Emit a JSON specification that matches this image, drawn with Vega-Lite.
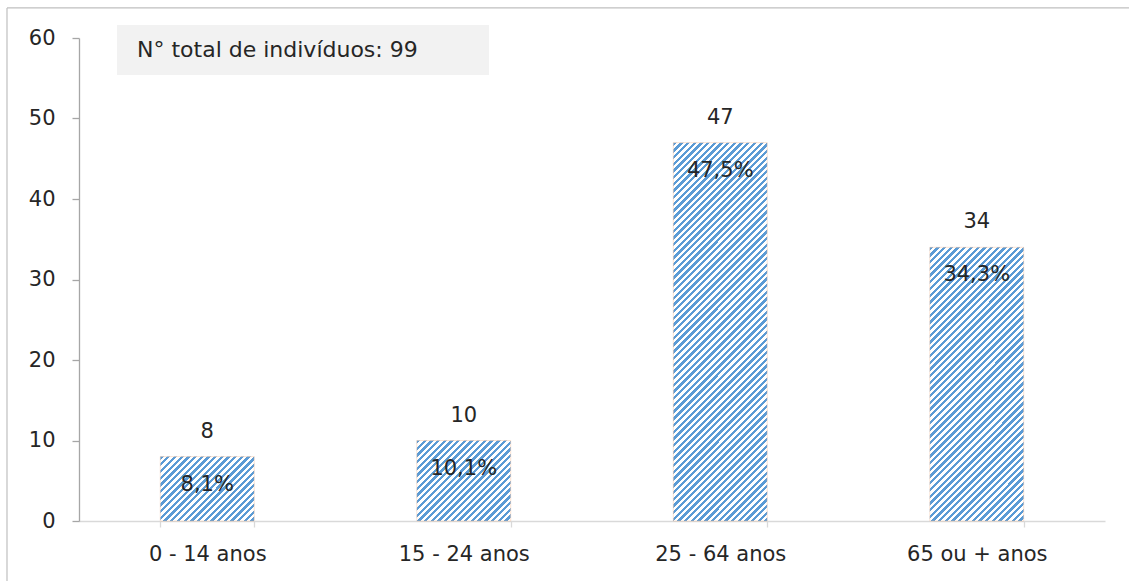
{
"$schema": "https://vega.github.io/schema/vega-lite/v6.json",
"width": 1026,
"height": 483,
"autosize": {"type": "none"},
"padding": {"left": 79, "top": 38, "right": 24, "bottom": 60},
"background": "#ffffff",
"config": {"view": {"stroke": null}, "font": "DejaVu Sans"},
"layer": [
{
"data": {"values": [
{"faixa": "0 - 14 anos", "n": 8, "pct": "8,1%"},
{"faixa": "15 - 24 anos", "n": 10, "pct": "10,1%"},
{"faixa": "25 - 64 anos", "n": 47, "pct": "47,5%"},
{"faixa": "65 ou + anos", "n": 34, "pct": "34,3%"}
]},
"layer": [
{
"mark": {"type": "bar", "stroke": "#f4b183", "strokeWidth": 0.5, "strokeOpacity": 0.7},
"encoding": {
"x": {"field": "faixa", "type": "nominal", "sort": null,
"scale": {"paddingInner": 0.634, "paddingOuter": 0.317},
"axis": {"title": null, "labelAngle": 0, "labelFont": "DejaVu Sans", "labelFontSize": 21, "labelColor": "#262626", "domainColor": "#d9d9d9", "domainWidth": 1.3, "tickColor": "#d9d9d9", "tickWidth": 1.3, "tickSize": 6, "tickBand": "extent", "labelPadding": 16, "grid": false}},
"y": {"field": "n", "type": "quantitative",
"scale": {"domain": [0, 60], "nice": false},
"axis": {"title": null, "values": [0, 10, 20, 30, 40, 50, 60], "labelFont": "DejaVu Sans", "labelFontSize": 21, "labelColor": "#262626", "domainColor": "#a6a6a6", "domainWidth": 1.3, "tickColor": "#a6a6a6", "tickWidth": 1.3, "tickSize": 7, "labelPadding": 17, "grid": false}},
"color": {"condition": [
{"test": "datum.faixa === '0 - 14 anos'", "value": {"gradient": "linear", "x1": 0, "y1": 0, "x2": 4.8528, "y2": 3.3282, "stops": [
{"offset":0,"color":"#5b9bd5"},
{"offset":0.005,"color":"#5b9bd5"},{"offset":0.005,"color":"#fff"},{"offset":0.01,"color":"#fff"},{"offset":0.01,"color":"#5b9bd5"},{"offset":0.015,"color":"#5b9bd5"},{"offset":0.015,"color":"#fff"},{"offset":0.02,"color":"#fff"},{"offset":0.02,"color":"#5b9bd5"},{"offset":0.025,"color":"#5b9bd5"},{"offset":0.025,"color":"#fff"},{"offset":0.03,"color":"#fff"},{"offset":0.03,"color":"#5b9bd5"},{"offset":0.035,"color":"#5b9bd5"},{"offset":0.035,"color":"#fff"},{"offset":0.04,"color":"#fff"},{"offset":0.04,"color":"#5b9bd5"},{"offset":0.045,"color":"#5b9bd5"},{"offset":0.045,"color":"#fff"},{"offset":0.05,"color":"#fff"},{"offset":0.05,"color":"#5b9bd5"},
{"offset":0.055,"color":"#5b9bd5"},{"offset":0.055,"color":"#fff"},{"offset":0.06,"color":"#fff"},{"offset":0.06,"color":"#5b9bd5"},{"offset":0.065,"color":"#5b9bd5"},{"offset":0.065,"color":"#fff"},{"offset":0.07,"color":"#fff"},{"offset":0.07,"color":"#5b9bd5"},{"offset":0.075,"color":"#5b9bd5"},{"offset":0.075,"color":"#fff"},{"offset":0.08,"color":"#fff"},{"offset":0.08,"color":"#5b9bd5"},{"offset":0.085,"color":"#5b9bd5"},{"offset":0.085,"color":"#fff"},{"offset":0.09,"color":"#fff"},{"offset":0.09,"color":"#5b9bd5"},{"offset":0.095,"color":"#5b9bd5"},{"offset":0.095,"color":"#fff"},{"offset":0.1,"color":"#fff"},{"offset":0.1,"color":"#5b9bd5"},
{"offset":0.105,"color":"#5b9bd5"},{"offset":0.105,"color":"#fff"},{"offset":0.11,"color":"#fff"},{"offset":0.11,"color":"#5b9bd5"},{"offset":0.115,"color":"#5b9bd5"},{"offset":0.115,"color":"#fff"},{"offset":0.12,"color":"#fff"},{"offset":0.12,"color":"#5b9bd5"},{"offset":0.125,"color":"#5b9bd5"},{"offset":0.125,"color":"#fff"},{"offset":0.13,"color":"#fff"},{"offset":0.13,"color":"#5b9bd5"},{"offset":0.135,"color":"#5b9bd5"},{"offset":0.135,"color":"#fff"},{"offset":0.14,"color":"#fff"},{"offset":0.14,"color":"#5b9bd5"},{"offset":0.145,"color":"#5b9bd5"},{"offset":0.145,"color":"#fff"},{"offset":0.15,"color":"#fff"},{"offset":0.15,"color":"#5b9bd5"},
{"offset":0.155,"color":"#5b9bd5"},{"offset":0.155,"color":"#fff"},{"offset":0.16,"color":"#fff"},{"offset":0.16,"color":"#5b9bd5"},{"offset":0.165,"color":"#5b9bd5"},{"offset":0.165,"color":"#fff"},{"offset":0.17,"color":"#fff"},{"offset":0.17,"color":"#5b9bd5"},{"offset":0.175,"color":"#5b9bd5"},{"offset":0.175,"color":"#fff"},{"offset":0.18,"color":"#fff"},{"offset":0.18,"color":"#5b9bd5"},{"offset":0.185,"color":"#5b9bd5"},{"offset":0.185,"color":"#fff"},{"offset":0.19,"color":"#fff"},{"offset":0.19,"color":"#5b9bd5"},{"offset":0.195,"color":"#5b9bd5"},{"offset":0.195,"color":"#fff"},{"offset":0.2,"color":"#fff"},{"offset":0.2,"color":"#5b9bd5"},
{"offset":0.205,"color":"#5b9bd5"},{"offset":0.205,"color":"#fff"},{"offset":0.21,"color":"#fff"},{"offset":0.21,"color":"#5b9bd5"},{"offset":0.215,"color":"#5b9bd5"},{"offset":0.215,"color":"#fff"},{"offset":0.22,"color":"#fff"},{"offset":0.22,"color":"#5b9bd5"},{"offset":0.225,"color":"#5b9bd5"},{"offset":0.225,"color":"#fff"},{"offset":0.23,"color":"#fff"},{"offset":0.23,"color":"#5b9bd5"},{"offset":0.235,"color":"#5b9bd5"},{"offset":0.235,"color":"#fff"},{"offset":0.24,"color":"#fff"},{"offset":0.24,"color":"#5b9bd5"},{"offset":0.245,"color":"#5b9bd5"},{"offset":0.245,"color":"#fff"},{"offset":0.25,"color":"#fff"},{"offset":0.25,"color":"#5b9bd5"}
]}},
{"test": "datum.faixa === '15 - 24 anos'", "value": {"gradient": "linear", "x1": 0, "y1": 0, "x2": 4.1126, "y2": 3.5257, "stops": [
{"offset":0,"color":"#5b9bd5"},
{"offset":0.005,"color":"#5b9bd5"},{"offset":0.005,"color":"#fff"},{"offset":0.01,"color":"#fff"},{"offset":0.01,"color":"#5b9bd5"},{"offset":0.015,"color":"#5b9bd5"},{"offset":0.015,"color":"#fff"},{"offset":0.02,"color":"#fff"},{"offset":0.02,"color":"#5b9bd5"},{"offset":0.025,"color":"#5b9bd5"},{"offset":0.025,"color":"#fff"},{"offset":0.03,"color":"#fff"},{"offset":0.03,"color":"#5b9bd5"},{"offset":0.035,"color":"#5b9bd5"},{"offset":0.035,"color":"#fff"},{"offset":0.04,"color":"#fff"},{"offset":0.04,"color":"#5b9bd5"},{"offset":0.045,"color":"#5b9bd5"},{"offset":0.045,"color":"#fff"},{"offset":0.05,"color":"#fff"},{"offset":0.05,"color":"#5b9bd5"},
{"offset":0.055,"color":"#5b9bd5"},{"offset":0.055,"color":"#fff"},{"offset":0.06,"color":"#fff"},{"offset":0.06,"color":"#5b9bd5"},{"offset":0.065,"color":"#5b9bd5"},{"offset":0.065,"color":"#fff"},{"offset":0.07,"color":"#fff"},{"offset":0.07,"color":"#5b9bd5"},{"offset":0.075,"color":"#5b9bd5"},{"offset":0.075,"color":"#fff"},{"offset":0.08,"color":"#fff"},{"offset":0.08,"color":"#5b9bd5"},{"offset":0.085,"color":"#5b9bd5"},{"offset":0.085,"color":"#fff"},{"offset":0.09,"color":"#fff"},{"offset":0.09,"color":"#5b9bd5"},{"offset":0.095,"color":"#5b9bd5"},{"offset":0.095,"color":"#fff"},{"offset":0.1,"color":"#fff"},{"offset":0.1,"color":"#5b9bd5"},
{"offset":0.105,"color":"#5b9bd5"},{"offset":0.105,"color":"#fff"},{"offset":0.11,"color":"#fff"},{"offset":0.11,"color":"#5b9bd5"},{"offset":0.115,"color":"#5b9bd5"},{"offset":0.115,"color":"#fff"},{"offset":0.12,"color":"#fff"},{"offset":0.12,"color":"#5b9bd5"},{"offset":0.125,"color":"#5b9bd5"},{"offset":0.125,"color":"#fff"},{"offset":0.13,"color":"#fff"},{"offset":0.13,"color":"#5b9bd5"},{"offset":0.135,"color":"#5b9bd5"},{"offset":0.135,"color":"#fff"},{"offset":0.14,"color":"#fff"},{"offset":0.14,"color":"#5b9bd5"},{"offset":0.145,"color":"#5b9bd5"},{"offset":0.145,"color":"#fff"},{"offset":0.15,"color":"#fff"},{"offset":0.15,"color":"#5b9bd5"},
{"offset":0.155,"color":"#5b9bd5"},{"offset":0.155,"color":"#fff"},{"offset":0.16,"color":"#fff"},{"offset":0.16,"color":"#5b9bd5"},{"offset":0.165,"color":"#5b9bd5"},{"offset":0.165,"color":"#fff"},{"offset":0.17,"color":"#fff"},{"offset":0.17,"color":"#5b9bd5"},{"offset":0.175,"color":"#5b9bd5"},{"offset":0.175,"color":"#fff"},{"offset":0.18,"color":"#fff"},{"offset":0.18,"color":"#5b9bd5"},{"offset":0.185,"color":"#5b9bd5"},{"offset":0.185,"color":"#fff"},{"offset":0.19,"color":"#fff"},{"offset":0.19,"color":"#5b9bd5"},{"offset":0.195,"color":"#5b9bd5"},{"offset":0.195,"color":"#fff"},{"offset":0.2,"color":"#fff"},{"offset":0.2,"color":"#5b9bd5"},
{"offset":0.205,"color":"#5b9bd5"},{"offset":0.205,"color":"#fff"},{"offset":0.21,"color":"#fff"},{"offset":0.21,"color":"#5b9bd5"},{"offset":0.215,"color":"#5b9bd5"},{"offset":0.215,"color":"#fff"},{"offset":0.22,"color":"#fff"},{"offset":0.22,"color":"#5b9bd5"},{"offset":0.225,"color":"#5b9bd5"},{"offset":0.225,"color":"#fff"},{"offset":0.23,"color":"#fff"},{"offset":0.23,"color":"#5b9bd5"},{"offset":0.235,"color":"#5b9bd5"},{"offset":0.235,"color":"#fff"},{"offset":0.24,"color":"#fff"},{"offset":0.24,"color":"#5b9bd5"},{"offset":0.245,"color":"#5b9bd5"},{"offset":0.245,"color":"#fff"},{"offset":0.25,"color":"#fff"},{"offset":0.25,"color":"#5b9bd5"},
{"offset":0.255,"color":"#5b9bd5"},{"offset":0.255,"color":"#fff"},{"offset":0.26,"color":"#fff"},{"offset":0.26,"color":"#5b9bd5"},{"offset":0.265,"color":"#5b9bd5"},{"offset":0.265,"color":"#fff"},{"offset":0.27,"color":"#fff"},{"offset":0.27,"color":"#5b9bd5"},{"offset":0.275,"color":"#5b9bd5"},{"offset":0.275,"color":"#fff"},{"offset":0.28,"color":"#fff"},{"offset":0.28,"color":"#5b9bd5"}
]}},
{"test": "datum.faixa === '25 - 64 anos'", "value": {"gradient": "linear", "x1": 0, "y1": 0, "x2": 0.414, "y2": 1.6681, "stops": [
{"offset":0,"color":"#5b9bd5"},
{"offset":0.005,"color":"#5b9bd5"},{"offset":0.005,"color":"#fff"},{"offset":0.01,"color":"#fff"},{"offset":0.01,"color":"#5b9bd5"},{"offset":0.015,"color":"#5b9bd5"},{"offset":0.015,"color":"#fff"},{"offset":0.02,"color":"#fff"},{"offset":0.02,"color":"#5b9bd5"},{"offset":0.025,"color":"#5b9bd5"},{"offset":0.025,"color":"#fff"},{"offset":0.03,"color":"#fff"},{"offset":0.03,"color":"#5b9bd5"},{"offset":0.035,"color":"#5b9bd5"},{"offset":0.035,"color":"#fff"},{"offset":0.04,"color":"#fff"},{"offset":0.04,"color":"#5b9bd5"},{"offset":0.045,"color":"#5b9bd5"},{"offset":0.045,"color":"#fff"},{"offset":0.05,"color":"#fff"},{"offset":0.05,"color":"#5b9bd5"},
{"offset":0.055,"color":"#5b9bd5"},{"offset":0.055,"color":"#fff"},{"offset":0.06,"color":"#fff"},{"offset":0.06,"color":"#5b9bd5"},{"offset":0.065,"color":"#5b9bd5"},{"offset":0.065,"color":"#fff"},{"offset":0.07,"color":"#fff"},{"offset":0.07,"color":"#5b9bd5"},{"offset":0.075,"color":"#5b9bd5"},{"offset":0.075,"color":"#fff"},{"offset":0.08,"color":"#fff"},{"offset":0.08,"color":"#5b9bd5"},{"offset":0.085,"color":"#5b9bd5"},{"offset":0.085,"color":"#fff"},{"offset":0.09,"color":"#fff"},{"offset":0.09,"color":"#5b9bd5"},{"offset":0.095,"color":"#5b9bd5"},{"offset":0.095,"color":"#fff"},{"offset":0.1,"color":"#fff"},{"offset":0.1,"color":"#5b9bd5"},
{"offset":0.105,"color":"#5b9bd5"},{"offset":0.105,"color":"#fff"},{"offset":0.11,"color":"#fff"},{"offset":0.11,"color":"#5b9bd5"},{"offset":0.115,"color":"#5b9bd5"},{"offset":0.115,"color":"#fff"},{"offset":0.12,"color":"#fff"},{"offset":0.12,"color":"#5b9bd5"},{"offset":0.125,"color":"#5b9bd5"},{"offset":0.125,"color":"#fff"},{"offset":0.13,"color":"#fff"},{"offset":0.13,"color":"#5b9bd5"},{"offset":0.135,"color":"#5b9bd5"},{"offset":0.135,"color":"#fff"},{"offset":0.14,"color":"#fff"},{"offset":0.14,"color":"#5b9bd5"},{"offset":0.145,"color":"#5b9bd5"},{"offset":0.145,"color":"#fff"},{"offset":0.15,"color":"#fff"},{"offset":0.15,"color":"#5b9bd5"},
{"offset":0.155,"color":"#5b9bd5"},{"offset":0.155,"color":"#fff"},{"offset":0.16,"color":"#fff"},{"offset":0.16,"color":"#5b9bd5"},{"offset":0.165,"color":"#5b9bd5"},{"offset":0.165,"color":"#fff"},{"offset":0.17,"color":"#fff"},{"offset":0.17,"color":"#5b9bd5"},{"offset":0.175,"color":"#5b9bd5"},{"offset":0.175,"color":"#fff"},{"offset":0.18,"color":"#fff"},{"offset":0.18,"color":"#5b9bd5"},{"offset":0.185,"color":"#5b9bd5"},{"offset":0.185,"color":"#fff"},{"offset":0.19,"color":"#fff"},{"offset":0.19,"color":"#5b9bd5"},{"offset":0.195,"color":"#5b9bd5"},{"offset":0.195,"color":"#fff"},{"offset":0.2,"color":"#fff"},{"offset":0.2,"color":"#5b9bd5"},
{"offset":0.205,"color":"#5b9bd5"},{"offset":0.205,"color":"#fff"},{"offset":0.21,"color":"#fff"},{"offset":0.21,"color":"#5b9bd5"},{"offset":0.215,"color":"#5b9bd5"},{"offset":0.215,"color":"#fff"},{"offset":0.22,"color":"#fff"},{"offset":0.22,"color":"#5b9bd5"},{"offset":0.225,"color":"#5b9bd5"},{"offset":0.225,"color":"#fff"},{"offset":0.23,"color":"#fff"},{"offset":0.23,"color":"#5b9bd5"},{"offset":0.235,"color":"#5b9bd5"},{"offset":0.235,"color":"#fff"},{"offset":0.24,"color":"#fff"},{"offset":0.24,"color":"#5b9bd5"},{"offset":0.245,"color":"#5b9bd5"},{"offset":0.245,"color":"#fff"},{"offset":0.25,"color":"#fff"},{"offset":0.25,"color":"#5b9bd5"},
{"offset":0.255,"color":"#5b9bd5"},{"offset":0.255,"color":"#fff"},{"offset":0.26,"color":"#fff"},{"offset":0.26,"color":"#5b9bd5"},{"offset":0.265,"color":"#5b9bd5"},{"offset":0.265,"color":"#fff"},{"offset":0.27,"color":"#fff"},{"offset":0.27,"color":"#5b9bd5"},{"offset":0.275,"color":"#5b9bd5"},{"offset":0.275,"color":"#fff"},{"offset":0.28,"color":"#fff"},{"offset":0.28,"color":"#5b9bd5"},{"offset":0.285,"color":"#5b9bd5"},{"offset":0.285,"color":"#fff"},{"offset":0.29,"color":"#fff"},{"offset":0.29,"color":"#5b9bd5"},{"offset":0.295,"color":"#5b9bd5"},{"offset":0.295,"color":"#fff"},{"offset":0.3,"color":"#fff"},{"offset":0.3,"color":"#5b9bd5"},
{"offset":0.305,"color":"#5b9bd5"},{"offset":0.305,"color":"#fff"},{"offset":0.31,"color":"#fff"},{"offset":0.31,"color":"#5b9bd5"},{"offset":0.315,"color":"#5b9bd5"},{"offset":0.315,"color":"#fff"},{"offset":0.32,"color":"#fff"},{"offset":0.32,"color":"#5b9bd5"},{"offset":0.325,"color":"#5b9bd5"},{"offset":0.325,"color":"#fff"},{"offset":0.33,"color":"#fff"},{"offset":0.33,"color":"#5b9bd5"},{"offset":0.335,"color":"#5b9bd5"},{"offset":0.335,"color":"#fff"},{"offset":0.34,"color":"#fff"},{"offset":0.34,"color":"#5b9bd5"},{"offset":0.345,"color":"#5b9bd5"},{"offset":0.345,"color":"#fff"},{"offset":0.35,"color":"#fff"},{"offset":0.35,"color":"#5b9bd5"},
{"offset":0.355,"color":"#5b9bd5"},{"offset":0.355,"color":"#fff"},{"offset":0.36,"color":"#fff"},{"offset":0.36,"color":"#5b9bd5"},{"offset":0.365,"color":"#5b9bd5"},{"offset":0.365,"color":"#fff"},{"offset":0.37,"color":"#fff"},{"offset":0.37,"color":"#5b9bd5"},{"offset":0.375,"color":"#5b9bd5"},{"offset":0.375,"color":"#fff"},{"offset":0.38,"color":"#fff"},{"offset":0.38,"color":"#5b9bd5"},{"offset":0.385,"color":"#5b9bd5"},{"offset":0.385,"color":"#fff"},{"offset":0.39,"color":"#fff"},{"offset":0.39,"color":"#5b9bd5"},{"offset":0.395,"color":"#5b9bd5"},{"offset":0.395,"color":"#fff"},{"offset":0.4,"color":"#fff"},{"offset":0.4,"color":"#5b9bd5"},
{"offset":0.405,"color":"#5b9bd5"},{"offset":0.405,"color":"#fff"},{"offset":0.41,"color":"#fff"},{"offset":0.41,"color":"#5b9bd5"},{"offset":0.415,"color":"#5b9bd5"},{"offset":0.415,"color":"#fff"},{"offset":0.42,"color":"#fff"},{"offset":0.42,"color":"#5b9bd5"},{"offset":0.425,"color":"#5b9bd5"},{"offset":0.425,"color":"#fff"},{"offset":0.43,"color":"#fff"},{"offset":0.43,"color":"#5b9bd5"},{"offset":0.435,"color":"#5b9bd5"},{"offset":0.435,"color":"#fff"},{"offset":0.44,"color":"#fff"},{"offset":0.44,"color":"#5b9bd5"},{"offset":0.445,"color":"#5b9bd5"},{"offset":0.445,"color":"#fff"},{"offset":0.45,"color":"#fff"},{"offset":0.45,"color":"#5b9bd5"},
{"offset":0.455,"color":"#5b9bd5"},{"offset":0.455,"color":"#fff"},{"offset":0.46,"color":"#fff"},{"offset":0.46,"color":"#5b9bd5"},{"offset":0.465,"color":"#5b9bd5"},{"offset":0.465,"color":"#fff"},{"offset":0.47,"color":"#fff"},{"offset":0.47,"color":"#5b9bd5"},{"offset":0.475,"color":"#5b9bd5"},{"offset":0.475,"color":"#fff"},{"offset":0.48,"color":"#fff"},{"offset":0.48,"color":"#5b9bd5"},{"offset":0.485,"color":"#5b9bd5"},{"offset":0.485,"color":"#fff"},{"offset":0.49,"color":"#fff"},{"offset":0.49,"color":"#5b9bd5"},{"offset":0.495,"color":"#5b9bd5"},{"offset":0.495,"color":"#fff"},{"offset":0.5,"color":"#fff"},{"offset":0.5,"color":"#5b9bd5"},
{"offset":0.505,"color":"#5b9bd5"},{"offset":0.505,"color":"#fff"},{"offset":0.51,"color":"#fff"},{"offset":0.51,"color":"#5b9bd5"},{"offset":0.515,"color":"#5b9bd5"},{"offset":0.515,"color":"#fff"},{"offset":0.52,"color":"#fff"},{"offset":0.52,"color":"#5b9bd5"},{"offset":0.525,"color":"#5b9bd5"},{"offset":0.525,"color":"#fff"},{"offset":0.53,"color":"#fff"},{"offset":0.53,"color":"#5b9bd5"},{"offset":0.535,"color":"#5b9bd5"},{"offset":0.535,"color":"#fff"},{"offset":0.54,"color":"#fff"},{"offset":0.54,"color":"#5b9bd5"},{"offset":0.545,"color":"#5b9bd5"},{"offset":0.545,"color":"#fff"},{"offset":0.55,"color":"#fff"},{"offset":0.55,"color":"#5b9bd5"},
{"offset":0.555,"color":"#5b9bd5"},{"offset":0.555,"color":"#fff"},{"offset":0.56,"color":"#fff"},{"offset":0.56,"color":"#5b9bd5"},{"offset":0.565,"color":"#5b9bd5"},{"offset":0.565,"color":"#fff"},{"offset":0.57,"color":"#fff"},{"offset":0.57,"color":"#5b9bd5"},{"offset":0.575,"color":"#5b9bd5"},{"offset":0.575,"color":"#fff"},{"offset":0.58,"color":"#fff"},{"offset":0.58,"color":"#5b9bd5"},{"offset":0.585,"color":"#5b9bd5"},{"offset":0.585,"color":"#fff"},{"offset":0.59,"color":"#fff"},{"offset":0.59,"color":"#5b9bd5"},{"offset":0.595,"color":"#5b9bd5"},{"offset":0.595,"color":"#fff"},{"offset":0.6,"color":"#fff"},{"offset":0.6,"color":"#5b9bd5"},
{"offset":0.605,"color":"#5b9bd5"},{"offset":0.605,"color":"#fff"},{"offset":0.61,"color":"#fff"},{"offset":0.61,"color":"#5b9bd5"},{"offset":0.615,"color":"#5b9bd5"},{"offset":0.615,"color":"#fff"},{"offset":0.62,"color":"#fff"},{"offset":0.62,"color":"#5b9bd5"},{"offset":0.625,"color":"#5b9bd5"},{"offset":0.625,"color":"#fff"},{"offset":0.63,"color":"#fff"},{"offset":0.63,"color":"#5b9bd5"},{"offset":0.635,"color":"#5b9bd5"},{"offset":0.635,"color":"#fff"},{"offset":0.64,"color":"#fff"},{"offset":0.64,"color":"#5b9bd5"},{"offset":0.645,"color":"#5b9bd5"},{"offset":0.645,"color":"#fff"},{"offset":0.65,"color":"#fff"},{"offset":0.65,"color":"#5b9bd5"},
{"offset":0.655,"color":"#5b9bd5"},{"offset":0.655,"color":"#fff"},{"offset":0.66,"color":"#fff"},{"offset":0.66,"color":"#5b9bd5"},{"offset":0.665,"color":"#5b9bd5"},{"offset":0.665,"color":"#fff"},{"offset":0.67,"color":"#fff"},{"offset":0.67,"color":"#5b9bd5"},{"offset":0.675,"color":"#5b9bd5"},{"offset":0.675,"color":"#fff"},{"offset":0.68,"color":"#fff"},{"offset":0.68,"color":"#5b9bd5"},{"offset":0.685,"color":"#5b9bd5"},{"offset":0.685,"color":"#fff"},{"offset":0.69,"color":"#fff"},{"offset":0.69,"color":"#5b9bd5"},{"offset":0.695,"color":"#5b9bd5"},{"offset":0.695,"color":"#fff"},{"offset":0.7,"color":"#fff"},{"offset":0.7,"color":"#5b9bd5"},
{"offset":0.705,"color":"#5b9bd5"},{"offset":0.705,"color":"#fff"},{"offset":0.71,"color":"#fff"},{"offset":0.71,"color":"#5b9bd5"},{"offset":0.715,"color":"#5b9bd5"},{"offset":0.715,"color":"#fff"}
]}},
{"test": "datum.faixa === '65 ou + anos'", "value": {"gradient": "linear", "x1": 0, "y1": 0, "x2": 0.7514, "y2": 2.1902, "stops": [
{"offset":0,"color":"#5b9bd5"},
{"offset":0.005,"color":"#5b9bd5"},{"offset":0.005,"color":"#fff"},{"offset":0.01,"color":"#fff"},{"offset":0.01,"color":"#5b9bd5"},{"offset":0.015,"color":"#5b9bd5"},{"offset":0.015,"color":"#fff"},{"offset":0.02,"color":"#fff"},{"offset":0.02,"color":"#5b9bd5"},{"offset":0.025,"color":"#5b9bd5"},{"offset":0.025,"color":"#fff"},{"offset":0.03,"color":"#fff"},{"offset":0.03,"color":"#5b9bd5"},{"offset":0.035,"color":"#5b9bd5"},{"offset":0.035,"color":"#fff"},{"offset":0.04,"color":"#fff"},{"offset":0.04,"color":"#5b9bd5"},{"offset":0.045,"color":"#5b9bd5"},{"offset":0.045,"color":"#fff"},{"offset":0.05,"color":"#fff"},{"offset":0.05,"color":"#5b9bd5"},
{"offset":0.055,"color":"#5b9bd5"},{"offset":0.055,"color":"#fff"},{"offset":0.06,"color":"#fff"},{"offset":0.06,"color":"#5b9bd5"},{"offset":0.065,"color":"#5b9bd5"},{"offset":0.065,"color":"#fff"},{"offset":0.07,"color":"#fff"},{"offset":0.07,"color":"#5b9bd5"},{"offset":0.075,"color":"#5b9bd5"},{"offset":0.075,"color":"#fff"},{"offset":0.08,"color":"#fff"},{"offset":0.08,"color":"#5b9bd5"},{"offset":0.085,"color":"#5b9bd5"},{"offset":0.085,"color":"#fff"},{"offset":0.09,"color":"#fff"},{"offset":0.09,"color":"#5b9bd5"},{"offset":0.095,"color":"#5b9bd5"},{"offset":0.095,"color":"#fff"},{"offset":0.1,"color":"#fff"},{"offset":0.1,"color":"#5b9bd5"},
{"offset":0.105,"color":"#5b9bd5"},{"offset":0.105,"color":"#fff"},{"offset":0.11,"color":"#fff"},{"offset":0.11,"color":"#5b9bd5"},{"offset":0.115,"color":"#5b9bd5"},{"offset":0.115,"color":"#fff"},{"offset":0.12,"color":"#fff"},{"offset":0.12,"color":"#5b9bd5"},{"offset":0.125,"color":"#5b9bd5"},{"offset":0.125,"color":"#fff"},{"offset":0.13,"color":"#fff"},{"offset":0.13,"color":"#5b9bd5"},{"offset":0.135,"color":"#5b9bd5"},{"offset":0.135,"color":"#fff"},{"offset":0.14,"color":"#fff"},{"offset":0.14,"color":"#5b9bd5"},{"offset":0.145,"color":"#5b9bd5"},{"offset":0.145,"color":"#fff"},{"offset":0.15,"color":"#fff"},{"offset":0.15,"color":"#5b9bd5"},
{"offset":0.155,"color":"#5b9bd5"},{"offset":0.155,"color":"#fff"},{"offset":0.16,"color":"#fff"},{"offset":0.16,"color":"#5b9bd5"},{"offset":0.165,"color":"#5b9bd5"},{"offset":0.165,"color":"#fff"},{"offset":0.17,"color":"#fff"},{"offset":0.17,"color":"#5b9bd5"},{"offset":0.175,"color":"#5b9bd5"},{"offset":0.175,"color":"#fff"},{"offset":0.18,"color":"#fff"},{"offset":0.18,"color":"#5b9bd5"},{"offset":0.185,"color":"#5b9bd5"},{"offset":0.185,"color":"#fff"},{"offset":0.19,"color":"#fff"},{"offset":0.19,"color":"#5b9bd5"},{"offset":0.195,"color":"#5b9bd5"},{"offset":0.195,"color":"#fff"},{"offset":0.2,"color":"#fff"},{"offset":0.2,"color":"#5b9bd5"},
{"offset":0.205,"color":"#5b9bd5"},{"offset":0.205,"color":"#fff"},{"offset":0.21,"color":"#fff"},{"offset":0.21,"color":"#5b9bd5"},{"offset":0.215,"color":"#5b9bd5"},{"offset":0.215,"color":"#fff"},{"offset":0.22,"color":"#fff"},{"offset":0.22,"color":"#5b9bd5"},{"offset":0.225,"color":"#5b9bd5"},{"offset":0.225,"color":"#fff"},{"offset":0.23,"color":"#fff"},{"offset":0.23,"color":"#5b9bd5"},{"offset":0.235,"color":"#5b9bd5"},{"offset":0.235,"color":"#fff"},{"offset":0.24,"color":"#fff"},{"offset":0.24,"color":"#5b9bd5"},{"offset":0.245,"color":"#5b9bd5"},{"offset":0.245,"color":"#fff"},{"offset":0.25,"color":"#fff"},{"offset":0.25,"color":"#5b9bd5"},
{"offset":0.255,"color":"#5b9bd5"},{"offset":0.255,"color":"#fff"},{"offset":0.26,"color":"#fff"},{"offset":0.26,"color":"#5b9bd5"},{"offset":0.265,"color":"#5b9bd5"},{"offset":0.265,"color":"#fff"},{"offset":0.27,"color":"#fff"},{"offset":0.27,"color":"#5b9bd5"},{"offset":0.275,"color":"#5b9bd5"},{"offset":0.275,"color":"#fff"},{"offset":0.28,"color":"#fff"},{"offset":0.28,"color":"#5b9bd5"},{"offset":0.285,"color":"#5b9bd5"},{"offset":0.285,"color":"#fff"},{"offset":0.29,"color":"#fff"},{"offset":0.29,"color":"#5b9bd5"},{"offset":0.295,"color":"#5b9bd5"},{"offset":0.295,"color":"#fff"},{"offset":0.3,"color":"#fff"},{"offset":0.3,"color":"#5b9bd5"},
{"offset":0.305,"color":"#5b9bd5"},{"offset":0.305,"color":"#fff"},{"offset":0.31,"color":"#fff"},{"offset":0.31,"color":"#5b9bd5"},{"offset":0.315,"color":"#5b9bd5"},{"offset":0.315,"color":"#fff"},{"offset":0.32,"color":"#fff"},{"offset":0.32,"color":"#5b9bd5"},{"offset":0.325,"color":"#5b9bd5"},{"offset":0.325,"color":"#fff"},{"offset":0.33,"color":"#fff"},{"offset":0.33,"color":"#5b9bd5"},{"offset":0.335,"color":"#5b9bd5"},{"offset":0.335,"color":"#fff"},{"offset":0.34,"color":"#fff"},{"offset":0.34,"color":"#5b9bd5"},{"offset":0.345,"color":"#5b9bd5"},{"offset":0.345,"color":"#fff"},{"offset":0.35,"color":"#fff"},{"offset":0.35,"color":"#5b9bd5"},
{"offset":0.355,"color":"#5b9bd5"},{"offset":0.355,"color":"#fff"},{"offset":0.36,"color":"#fff"},{"offset":0.36,"color":"#5b9bd5"},{"offset":0.365,"color":"#5b9bd5"},{"offset":0.365,"color":"#fff"},{"offset":0.37,"color":"#fff"},{"offset":0.37,"color":"#5b9bd5"},{"offset":0.375,"color":"#5b9bd5"},{"offset":0.375,"color":"#fff"},{"offset":0.38,"color":"#fff"},{"offset":0.38,"color":"#5b9bd5"},{"offset":0.385,"color":"#5b9bd5"},{"offset":0.385,"color":"#fff"},{"offset":0.39,"color":"#fff"},{"offset":0.39,"color":"#5b9bd5"},{"offset":0.395,"color":"#5b9bd5"},{"offset":0.395,"color":"#fff"},{"offset":0.4,"color":"#fff"},{"offset":0.4,"color":"#5b9bd5"},
{"offset":0.405,"color":"#5b9bd5"},{"offset":0.405,"color":"#fff"},{"offset":0.41,"color":"#fff"},{"offset":0.41,"color":"#5b9bd5"},{"offset":0.415,"color":"#5b9bd5"},{"offset":0.415,"color":"#fff"},{"offset":0.42,"color":"#fff"},{"offset":0.42,"color":"#5b9bd5"},{"offset":0.425,"color":"#5b9bd5"},{"offset":0.425,"color":"#fff"},{"offset":0.43,"color":"#fff"},{"offset":0.43,"color":"#5b9bd5"},{"offset":0.435,"color":"#5b9bd5"},{"offset":0.435,"color":"#fff"},{"offset":0.44,"color":"#fff"},{"offset":0.44,"color":"#5b9bd5"},{"offset":0.445,"color":"#5b9bd5"},{"offset":0.445,"color":"#fff"},{"offset":0.45,"color":"#fff"},{"offset":0.45,"color":"#5b9bd5"},
{"offset":0.455,"color":"#5b9bd5"},{"offset":0.455,"color":"#fff"},{"offset":0.46,"color":"#fff"},{"offset":0.46,"color":"#5b9bd5"},{"offset":0.465,"color":"#5b9bd5"},{"offset":0.465,"color":"#fff"},{"offset":0.47,"color":"#fff"},{"offset":0.47,"color":"#5b9bd5"},{"offset":0.475,"color":"#5b9bd5"},{"offset":0.475,"color":"#fff"},{"offset":0.48,"color":"#fff"},{"offset":0.48,"color":"#5b9bd5"},{"offset":0.485,"color":"#5b9bd5"},{"offset":0.485,"color":"#fff"},{"offset":0.49,"color":"#fff"},{"offset":0.49,"color":"#5b9bd5"},{"offset":0.495,"color":"#5b9bd5"},{"offset":0.495,"color":"#fff"},{"offset":0.5,"color":"#fff"},{"offset":0.5,"color":"#5b9bd5"},
{"offset":0.505,"color":"#5b9bd5"},{"offset":0.505,"color":"#fff"},{"offset":0.51,"color":"#fff"},{"offset":0.51,"color":"#5b9bd5"},{"offset":0.515,"color":"#5b9bd5"},{"offset":0.515,"color":"#fff"},{"offset":0.52,"color":"#fff"},{"offset":0.52,"color":"#5b9bd5"},{"offset":0.525,"color":"#5b9bd5"},{"offset":0.525,"color":"#fff"},{"offset":0.53,"color":"#fff"},{"offset":0.53,"color":"#5b9bd5"},{"offset":0.535,"color":"#5b9bd5"},{"offset":0.535,"color":"#fff"},{"offset":0.54,"color":"#fff"},{"offset":0.54,"color":"#5b9bd5"},{"offset":0.545,"color":"#5b9bd5"},{"offset":0.545,"color":"#fff"},{"offset":0.55,"color":"#fff"},{"offset":0.55,"color":"#5b9bd5"},
{"offset":0.555,"color":"#5b9bd5"},{"offset":0.555,"color":"#fff"},{"offset":0.56,"color":"#fff"},{"offset":0.56,"color":"#5b9bd5"}
]}}
], "value": "#5b9bd5"}
}
},
{
"mark": {"type": "text", "font": "DejaVu Sans", "fontSize": 21, "color": "#262626", "baseline": "middle", "dy": -25},
"encoding": {
"x": {"field": "faixa", "type": "nominal", "sort": null},
"y": {"field": "n", "type": "quantitative"},
"text": {"field": "n", "type": "quantitative"}
}
},
{
"mark": {"type": "text", "font": "DejaVu Sans", "fontSize": 21, "color": "#262626", "baseline": "middle", "dy": 28},
"encoding": {
"x": {"field": "faixa", "type": "nominal", "sort": null},
"y": {"field": "n", "type": "quantitative"},
"text": {"field": "pct", "type": "nominal"}
}
}
]
},
{
"data": {"values": [{"label": "N° total de indivíduos: 99"}]},
"layer": [
{
"mark": {"type": "rect", "color": "#f2f2f2"},
"encoding": {
"x": {"datum": 0.1481, "type": "quantitative", "scale": {"domain": [0, 4], "nice": false, "zero": false}, "axis": null},
"x2": {"datum": 1.5984},
"y": {"datum": 55.4, "type": "quantitative", "scale": {"domain": [0, 60], "nice": false, "zero": false}, "axis": null},
"y2": {"datum": 61.61}
}
},
{
"mark": {"type": "text", "font": "DejaVu Sans", "fontSize": 22, "color": "#262626", "align": "left", "baseline": "middle"},
"encoding": {
"x": {"datum": 0.2261, "type": "quantitative", "scale": {"domain": [0, 4], "nice": false, "zero": false}, "axis": null},
"y": {"datum": 58.51, "type": "quantitative", "scale": {"domain": [0, 60], "nice": false, "zero": false}, "axis": null},
"text": {"field": "label", "type": "nominal"}
}
},
{
"mark": {"type": "rule", "color": "#bfbfbf", "strokeWidth": 1.2},
"encoding": {
"x": {"datum": -0.2807, "type": "quantitative", "scale": {"domain": [0, 4], "nice": false, "zero": false}, "axis": null},
"y": {"datum": -8, "type": "quantitative", "scale": {"domain": [0, 60], "nice": false, "zero": false}, "axis": null},
"y2": {"datum": 63.73}
}
},
{
"mark": {"type": "rule", "color": "#bfbfbf", "strokeWidth": 1.2},
"encoding": {
"x": {"datum": -0.2807, "type": "quantitative", "scale": {"domain": [0, 4], "nice": false, "zero": false}, "axis": null},
"x2": {"datum": 4.2},
"y": {"datum": 63.73, "type": "quantitative", "scale": {"domain": [0, 60], "nice": false, "zero": false}, "axis": null}
}
}
]
}
],
"resolve": {"scale": {"x": "independent", "y": "independent"}}
}
